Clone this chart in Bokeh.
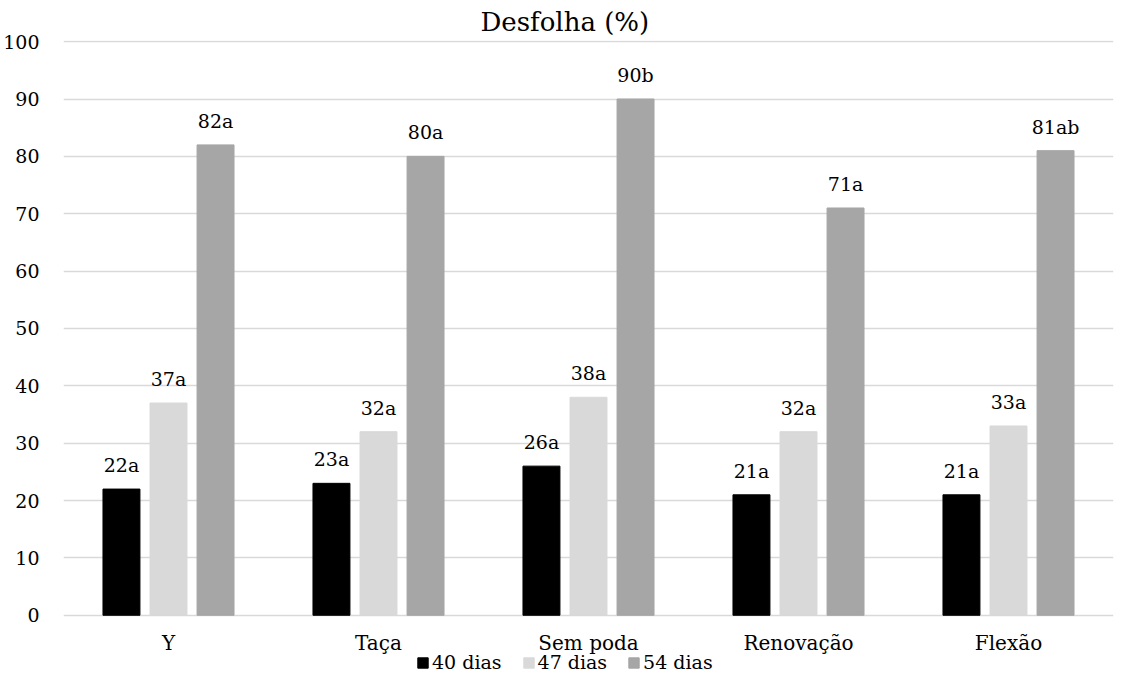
from bokeh.plotting import figure
from bokeh.models import ColumnDataSource, FactorRange, Range1d, Legend, LegendItem, FixedTicker
from bokeh.transform import dodge
from bokeh.core.properties import value
from bokeh.embed import file_html
from bokeh.resources import INLINE

cats = ["Y", "Taça", "Sem poda", "Renovação", "Flexão"]
d40 = [22, 23, 26, 21, 21]
d47 = [37, 32, 38, 32, 33]
d54 = [82, 80, 90, 71, 81]
l40 = ["22a", "23a", "26a", "21a", "21a"]
l47 = ["37a", "32a", "38a", "32a", "33a"]
l54 = ["82a", "80a", "90b", "71a", "81ab"]
series_names = ["40 dias", "47 dias", "54 dias"]
y_ticks = [0, 10, 20, 30, 40, 50, 60, 70, 80, 90, 100]
base = [0, 0, 0, 0, 0]

src = ColumnDataSource(dict(cat=cats, d40=d40, d47=d47, d54=d54, l40=l40, l47=l47, l54=l54, base=base))

FONT = "DejaVu Serif"

# the frame reaches below zero so the category labels and legend sit inside it
p = figure(x_range=FactorRange(factors=cats, range_padding=0), y_range=Range1d(-10.5, 100.2),
           frame_width=1050, frame_height=635, output_backend="svg", toolbar_location=None,
           min_border_left=62, min_border_right=2, min_border_top=40, min_border_bottom=0)

p.title.text = "Desfolha (%)"
p.title.align = "left"
p.title.offset = 417
p.title.text_font = FONT
p.title.text_font_size = "26px"
p.title.text_font_style = "normal"
p.title.text_color = "#000000"
p.title.standoff = 7

p.outline_line_color = None
p.xgrid.grid_line_color = None
p.ygrid.grid_line_color = "#d9d9d9"
p.ygrid.grid_line_width = 1.5
p.yaxis.ticker = FixedTicker(ticks=y_ticks)
p.xaxis.visible = False

ax = p.yaxis
ax.axis_line_color = None
ax.major_tick_line_color = None
ax.minor_tick_line_color = None
ax.major_tick_out = 0
ax.major_tick_in = 0
ax.minor_tick_out = 0
ax.major_label_text_font = FONT
ax.major_label_text_font_size = "19px"
ax.major_label_text_color = "#000000"
ax.major_label_standoff = 24

colors = ["#000000", "#d9d9d9", "#a6a6a6"]
offsets = [-0.224, 0.0, 0.224]
cols = ["d40", "d47", "d54"]
lcols = ["l40", "l47", "l54"]
renderers = []
for c, lc, col, off in zip(cols, lcols, colors, offsets):
    r = p.vbar(x=dodge("cat", off, range=p.x_range), top=c, width=0.176, source=src,
               fill_color=col, line_color=col)
    renderers.append(r)
    p.text(x=dodge("cat", off, range=p.x_range), y=c, text=lc, source=src,
           text_align="center", text_baseline="alphabetic", y_offset=-24,
           text_font=value(FONT), text_font_size="19px", text_color="#000000")

# category labels under the zero line
p.text(x="cat", y="base", text="cat", source=src, text_align="center", text_baseline="middle",
       y_offset=28, text_font=value(FONT), text_font_size="20px", text_color="#000000")

items = [LegendItem(label=n, renderers=[r]) for n, r in zip(series_names, renderers)]
legend = Legend(items=items,
                orientation="horizontal", location=(353, 2), glyph_width=13, glyph_height=13,
                label_standoff=3, spacing=20, padding=0, margin=0, border_line_color=None,
                label_text_font=FONT, label_text_font_size="19px", label_text_color="#000000",
                label_height=20, background_fill_alpha=0)
p.add_layout(legend)

open("out.html", "w").write(file_html(p, INLINE))
